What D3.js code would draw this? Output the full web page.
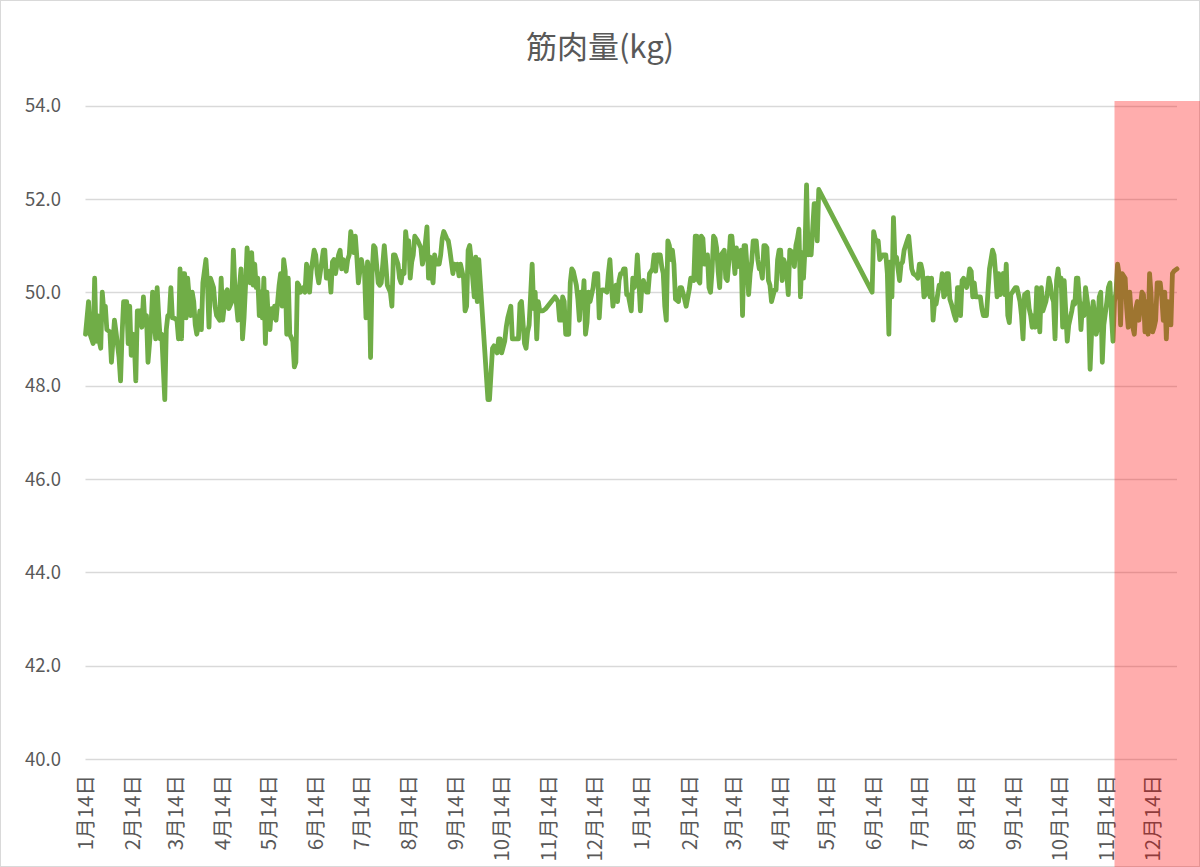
<!DOCTYPE html>
<html>
<head>
<meta charset="utf-8">
<script src="https://d3js.org/d3.v7.min.js"></script>
<style>
  body { margin: 0; background: #fff; }
  text { font-family: "Noto Sans CJK JP", "Noto Sans", sans-serif; fill: #595959; }
</style>
</head>
<body>
<svg id="chart"></svg>
<script>
// 筋肉量 line chart, daily readings Jan 2019 - Dec 2020

// DATA
const startDate = "2019-01-14";
const chartTitle = "筋肉量(kg)";

// days since startDate for each reading
const daysSinceStart = [
  0,2,3,5,6,7,8,9,10,11,12,13,14,16,17,19,20,22,23,24,25,27,28,29,30,31,32,33,34,36,
  37,38,39,40,41,43,44,46,47,48,49,50,52,53,54,55,56,57,58,60,61,62,63,64,65,66,67,69,70,71,
  72,73,74,75,76,77,79,80,81,82,84,85,86,88,89,90,92,93,94,96,97,98,100,101,
  102,103,104,105,106,108,109,110,111,112,113,114,115,116,117,118,119,120,121,122,
  123,124,125,127,128,129,130,131,132,133,134,136,137,138,139,140,141,143,144,145,
  146,147,148,150,151,152,153,155,156,157,158,160,161,162,163,164,166,167,168,169,
  171,172,173,174,176,177,178,179,181,182,183,184,185,186,187,188,189,190,192,193,
  194,196,197,198,200,201,202,
  203,205,206,207,208,209,210,211,212,213,214,215,216,217,218,220,221,222,224,225,
  226,227,228,229,230,232,233,234,235,237,238,239,241,242,243,244,245,246,248,249,
  250,251,252,253,255,256,257,258,259,264,265,267,268,270,271,272,273,275,276,277,
  279,280,281,282,284,285,286,288,289,290,291,293,294,295,296,297,298,300,302,
  308,310,311,312,313,314,315,317,318,319,320,322,323,324,325,326,327,328,329,330,
  331,333,334,335,336,337,338,339,340,342,343,344,345,346,347,348,349,350,351,352,
  353,354,355,356,358,359,360,361,362,363,364,365,366,368,369,370,371,372,373,374,
  375,377,378,379,380,381,382,383,384,385,386,387,389,390,391,393,394,396,397,398,
  399,400,401,402,403,404,405,
  406,408,409,410,411,412,413,414,415,416,417,419,420,421,422,423,424,426,427,428,
  429,430,431,432,433,434,435,436,437,438,440,441,442,443,444,445,446,447,448,449,
  450,452,453,454,455,456,457,458,459,460,461,462,464,465,466,467,468,469,470,471,
  472,473,474,475,476,478,479,480,481,
  516,517,518,519,520,521,522,523,525,526,527,528,529,530,531,532,534,535,536,537,
  539,540,541,542,543,545,546,547,548,549,550,551,552,553,554,555,556,557,558,560,
  561,562,563,564,565,566,567,568,570,571,572,573,574,575,576,578,579,580,581,582,
  583,584,585,587,588,589,591,592,593,595,596,597,598,599,600,602,603,604,605,606,
  607,608,609,
  610,611,612,613,614,615,616,618,619,620,621,622,623,624,625,626,627,628,630,631,
  632,633,634,635,636,637,638,639,640,641,642,643,644,645,647,648,649,650,651,652,
  653,654,655,656,658,659,660,661,662,663,664,665,666,667,668,670,671,672,673,674,
  675,676,677,678,679,680,682,683,684,685,686,687,688,689,690,691,693,694,695,696,
  697,698,699,700,701,702,703,705,706,707,708,709,710,711,712,713,714,716
];

// muscle mass (kg), same order as daysSinceStart
const muscleKg = [
  49.1,49.8,49.1,48.9,50.3,48.95,49.5,48.95,48.8,50.0,49.6,49.7,49.2,49.15,48.5,49.4,49.15,48.6,48.1,49.1,
  49.8,49.8,48.9,49.7,48.65,49.1,48.95,48.1,49.6,49.6,49.25,49.9,49.3,49.5,48.5,49.3,50.0,49.0,50.1,49.5,
  49.0,49.1,47.7,49.2,49.5,49.5,50.1,49.45,49.45,49.4,49.0,50.5,49.0,50.4,50.4,49.45,50.3,49.5,50.0,49.8,
  49.3,49.1,49.3,49.6,49.2,50.2,50.7,50.2,49.25,50.3,50.1,49.7,49.5,49.4,50.3,49.4,50.0,50.05,49.65,49.8,
  50.9,50.1,49.4,50.1,
  50.5,49.0,49.45,50.15,50.95,50.2,50.85,50.15,50.6,50.1,50.3,49.5,50.0,49.45,50.3,48.9,50.0,49.4,49.2,49.65,
  49.45,49.7,49.4,50.15,50.4,49.7,50.7,50.45,49.1,50.3,49.1,48.95,48.4,48.5,50.2,50.15,50.0,50.1,50.0,50.6,
  50.45,50.0,50.45,50.9,50.8,50.4,50.2,50.65,50.9,50.9,50.3,50.45,50.0,50.65,50.7,50.4,50.8,50.9,50.5,50.7,
  50.45,50.7,50.8,51.3,50.85,51.2,50.75,50.2,50.7,50.5,50.45,49.45,50.65,50.4,48.6,50.4,51.0,50.95,50.2,50.15,
  50.2,51.0,50.6,50.15,50.0,49.7,50.8,
  50.8,50.6,50.3,50.2,50.45,50.4,51.3,51.0,51.1,50.3,50.65,50.8,51.2,51.15,51.1,50.95,50.6,50.75,51.4,50.3,
  50.75,50.4,50.2,50.8,50.6,50.6,50.8,51.15,51.3,51.15,51.1,50.9,50.4,50.6,50.5,50.6,50.35,50.6,50.3,49.6,
  49.7,50.9,51.0,50.7,49.9,50.75,49.8,50.7,50.2,47.7,47.7,48.8,48.85,48.7,49.0,49.0,48.7,48.95,49.25,49.45,
  49.7,49.0,49.0,49.0,49.0,49.75,49.8,48.9,48.8,49.15,49.3,50.6,49.65,50.0,49.0,49.8,49.6,49.6,49.65,
  49.9,49.8,49.4,49.4,49.9,49.8,49.1,49.1,50.2,50.5,50.45,50.15,49.85,49.4,50.0,49.7,50.25,49.1,49.35,50.0,
  49.8,50.1,50.4,50.4,50.4,49.45,50.0,50.05,50.05,50.0,50.4,50.7,50.15,49.7,50.0,50.15,49.8,50.25,50.4,50.4,
  50.5,50.5,49.95,49.95,49.6,50.3,50.1,50.25,50.8,50.25,49.6,50.15,50.25,50.0,50.0,50.4,50.45,50.5,50.8,50.45,
  50.8,50.8,50.55,50.4,49.7,49.4,51.1,51.0,50.7,50.9,50.6,49.85,49.8,50.1,50.1,49.85,49.7,50.05,50.3,50.3,
  50.25,51.2,51.2,50.25,50.2,51.2,51.15,
  50.6,50.8,50.1,50.0,50.45,51.2,51.15,50.95,50.45,50.1,50.8,50.9,50.3,50.25,50.65,51.2,51.2,50.4,50.95,50.55,
  50.8,50.9,49.5,51.0,51.0,50.5,49.95,50.4,50.65,51.1,51.1,50.7,50.5,50.5,50.3,51.0,51.0,50.95,50.25,50.15,
  49.8,50.05,50.05,50.7,50.9,50.9,50.25,50.7,50.6,50.4,49.95,50.9,50.85,50.55,51.0,51.15,51.35,49.9,50.85,50.3,
  50.95,52.3,50.8,51.0,50.8,51.9,51.9,51.1,52.2,
  50.0,51.3,51.15,51.1,51.1,50.7,50.75,50.8,50.8,50.4,49.1,50.65,49.9,51.6,50.65,50.75,50.25,50.6,50.65,50.9,
  51.1,51.2,50.85,50.5,50.4,50.35,50.3,50.6,50.6,50.45,49.9,49.95,50.3,50.3,49.9,50.3,49.4,49.8,49.75,50.15,
  50.1,50.4,49.9,49.95,50.4,50.4,49.85,49.75,49.5,49.4,50.1,50.1,49.5,50.25,50.3,50.1,50.25,50.5,50.45,49.9,
  50.2,49.9,49.9,49.9,49.65,49.5,49.5,50.0,50.5,50.9,50.8,50.4,49.9,50.4,49.95,50.4,49.95,50.6,49.5,49.35,
  49.95,50.0,50.05,
  50.1,50.1,49.95,49.8,49.5,49.0,49.95,50.0,49.65,49.5,49.25,49.5,49.25,50.1,49.65,49.15,50.1,49.6,49.8,50.0,
  50.3,50.15,49.9,49.8,49.0,50.25,50.5,50.15,50.3,49.25,50.25,49.6,48.95,49.3,49.6,49.8,49.75,50.3,50.3,49.85,
  49.2,49.75,49.5,50.1,49.6,48.35,49.15,49.8,49.5,49.1,49.25,49.9,50.0,48.5,49.3,49.8,50.1,50.2,49.5,48.95,
  49.8,50.0,50.6,50.4,49.3,50.4,50.3,49.65,49.25,50.0,49.5,49.25,49.1,49.65,49.8,49.4,50.0,49.95,49.15,49.8,
  49.1,50.4,49.95,49.15,49.25,49.4,50.2,50.2,49.9,49.4,50.0,49.0,49.8,49.75,49.3,50.4,50.45,50.5
];

// y axis ticks
const yTicks = [40, 42, 44, 46, 48, 50, 52, 54];

// x axis tick dates (labels shown as "M月D日")
const xTickDates = [
  "2019-01-14","2019-02-14","2019-03-14","2019-04-14","2019-05-14","2019-06-14",
  "2019-07-14","2019-08-14","2019-09-14","2019-10-14","2019-11-14","2019-12-14",
  "2020-01-14","2020-02-14","2020-03-14","2020-04-14","2020-05-14","2020-06-14",
  "2020-07-14","2020-08-14","2020-09-14","2020-10-14","2020-11-14","2020-12-14"
];

// highlighted (red) period starts here
const highlightStart = "2020-11-19";

// SETUP
let win = {w: 1200, h: 867};
let plot = {left: 85.5, right: 1177, top: 105.5, bottom: 759};
let lineColor = "#70AD47";
let gridColor = "#D9D9D9";

const svg = d3.select("#chart")
  .attr("width", win.w)
  .attr("height", win.h);

const parseDay = d3.timeParse("%Y-%m-%d");
const start = parseDay(startDate);

let data = daysSinceStart.map(function(d, i) {
  return {date: d3.timeDay.offset(start, d), value: muscleKg[i]};
});

let x = d3.scaleTime()
  .domain(d3.extent(data, d => d.date))
  .range([plot.left, plot.right]);

let y = d3.scaleLinear()
  .domain([40, 54])
  .range([plot.bottom, plot.top]);

// chart border
svg.append("rect")
  .attr("x", 0.5).attr("y", 0.5)
  .attr("width", win.w - 1).attr("height", win.h - 1)
  .attr("fill", "white")
  .attr("stroke", gridColor);

// gridlines
svg.append("g").selectAll("line")
  .data(yTicks)
  .enter()
  .append("line")
  .attr("x1", plot.left)
  .attr("x2", plot.right)
  .attr("y1", d => Math.round(y(d)) + 0.5)
  .attr("y2", d => Math.round(y(d)) + 0.5)
  .attr("stroke", gridColor)
  .attr("stroke-width", 1.3);

// y labels
svg.append("g").selectAll("text")
  .data(yTicks)
  .enter()
  .append("text")
  .attr("x", 61)
  .attr("y", d => y(d))
  .attr("dy", "0.36em")
  .attr("text-anchor", "end")
  .attr("font-size", 18.5)
  .text(d => d3.format(".1f")(d));

// x labels, rotated
let fmtTick = d3.timeFormat("%-m月%-d日");
svg.append("g").selectAll("text")
  .data(xTickDates.map(parseDay))
  .enter()
  .append("text")
  .attr("transform", d => "translate(" + x(d) + "," + 775 + ") rotate(-90)")
  .attr("dy", "0.36em")
  .attr("text-anchor", "end")
  .attr("font-size", 20.5)
  .text(d => fmtTick(d));

// the line
let line = d3.line()
  .x(d => x(d.date))
  .y(d => y(d.value));

svg.append("path")
  .datum(data)
  .attr("d", line)
  .attr("fill", "none")
  .attr("stroke", lineColor)
  .attr("stroke-width", 4.8)
  .attr("stroke-linejoin", "round")
  .attr("stroke-linecap", "round");

// title
svg.append("text")
  .attr("x", win.w / 2)
  .attr("y", 58)
  .attr("text-anchor", "middle")
  .attr("font-size", 31)
  .text(chartTitle);

// red highlight box over the last weeks
let hx = x(parseDay(highlightStart));
svg.append("rect")
  .attr("x", hx)
  .attr("y", y(54) - 4.5)
  .attr("width", win.w - hx)
  .attr("height", win.h - (y(54) - 4.5))
  .attr("fill", "#FF0000")
  .attr("fill-opacity", 0.32);
</script>
</body>
</html>
